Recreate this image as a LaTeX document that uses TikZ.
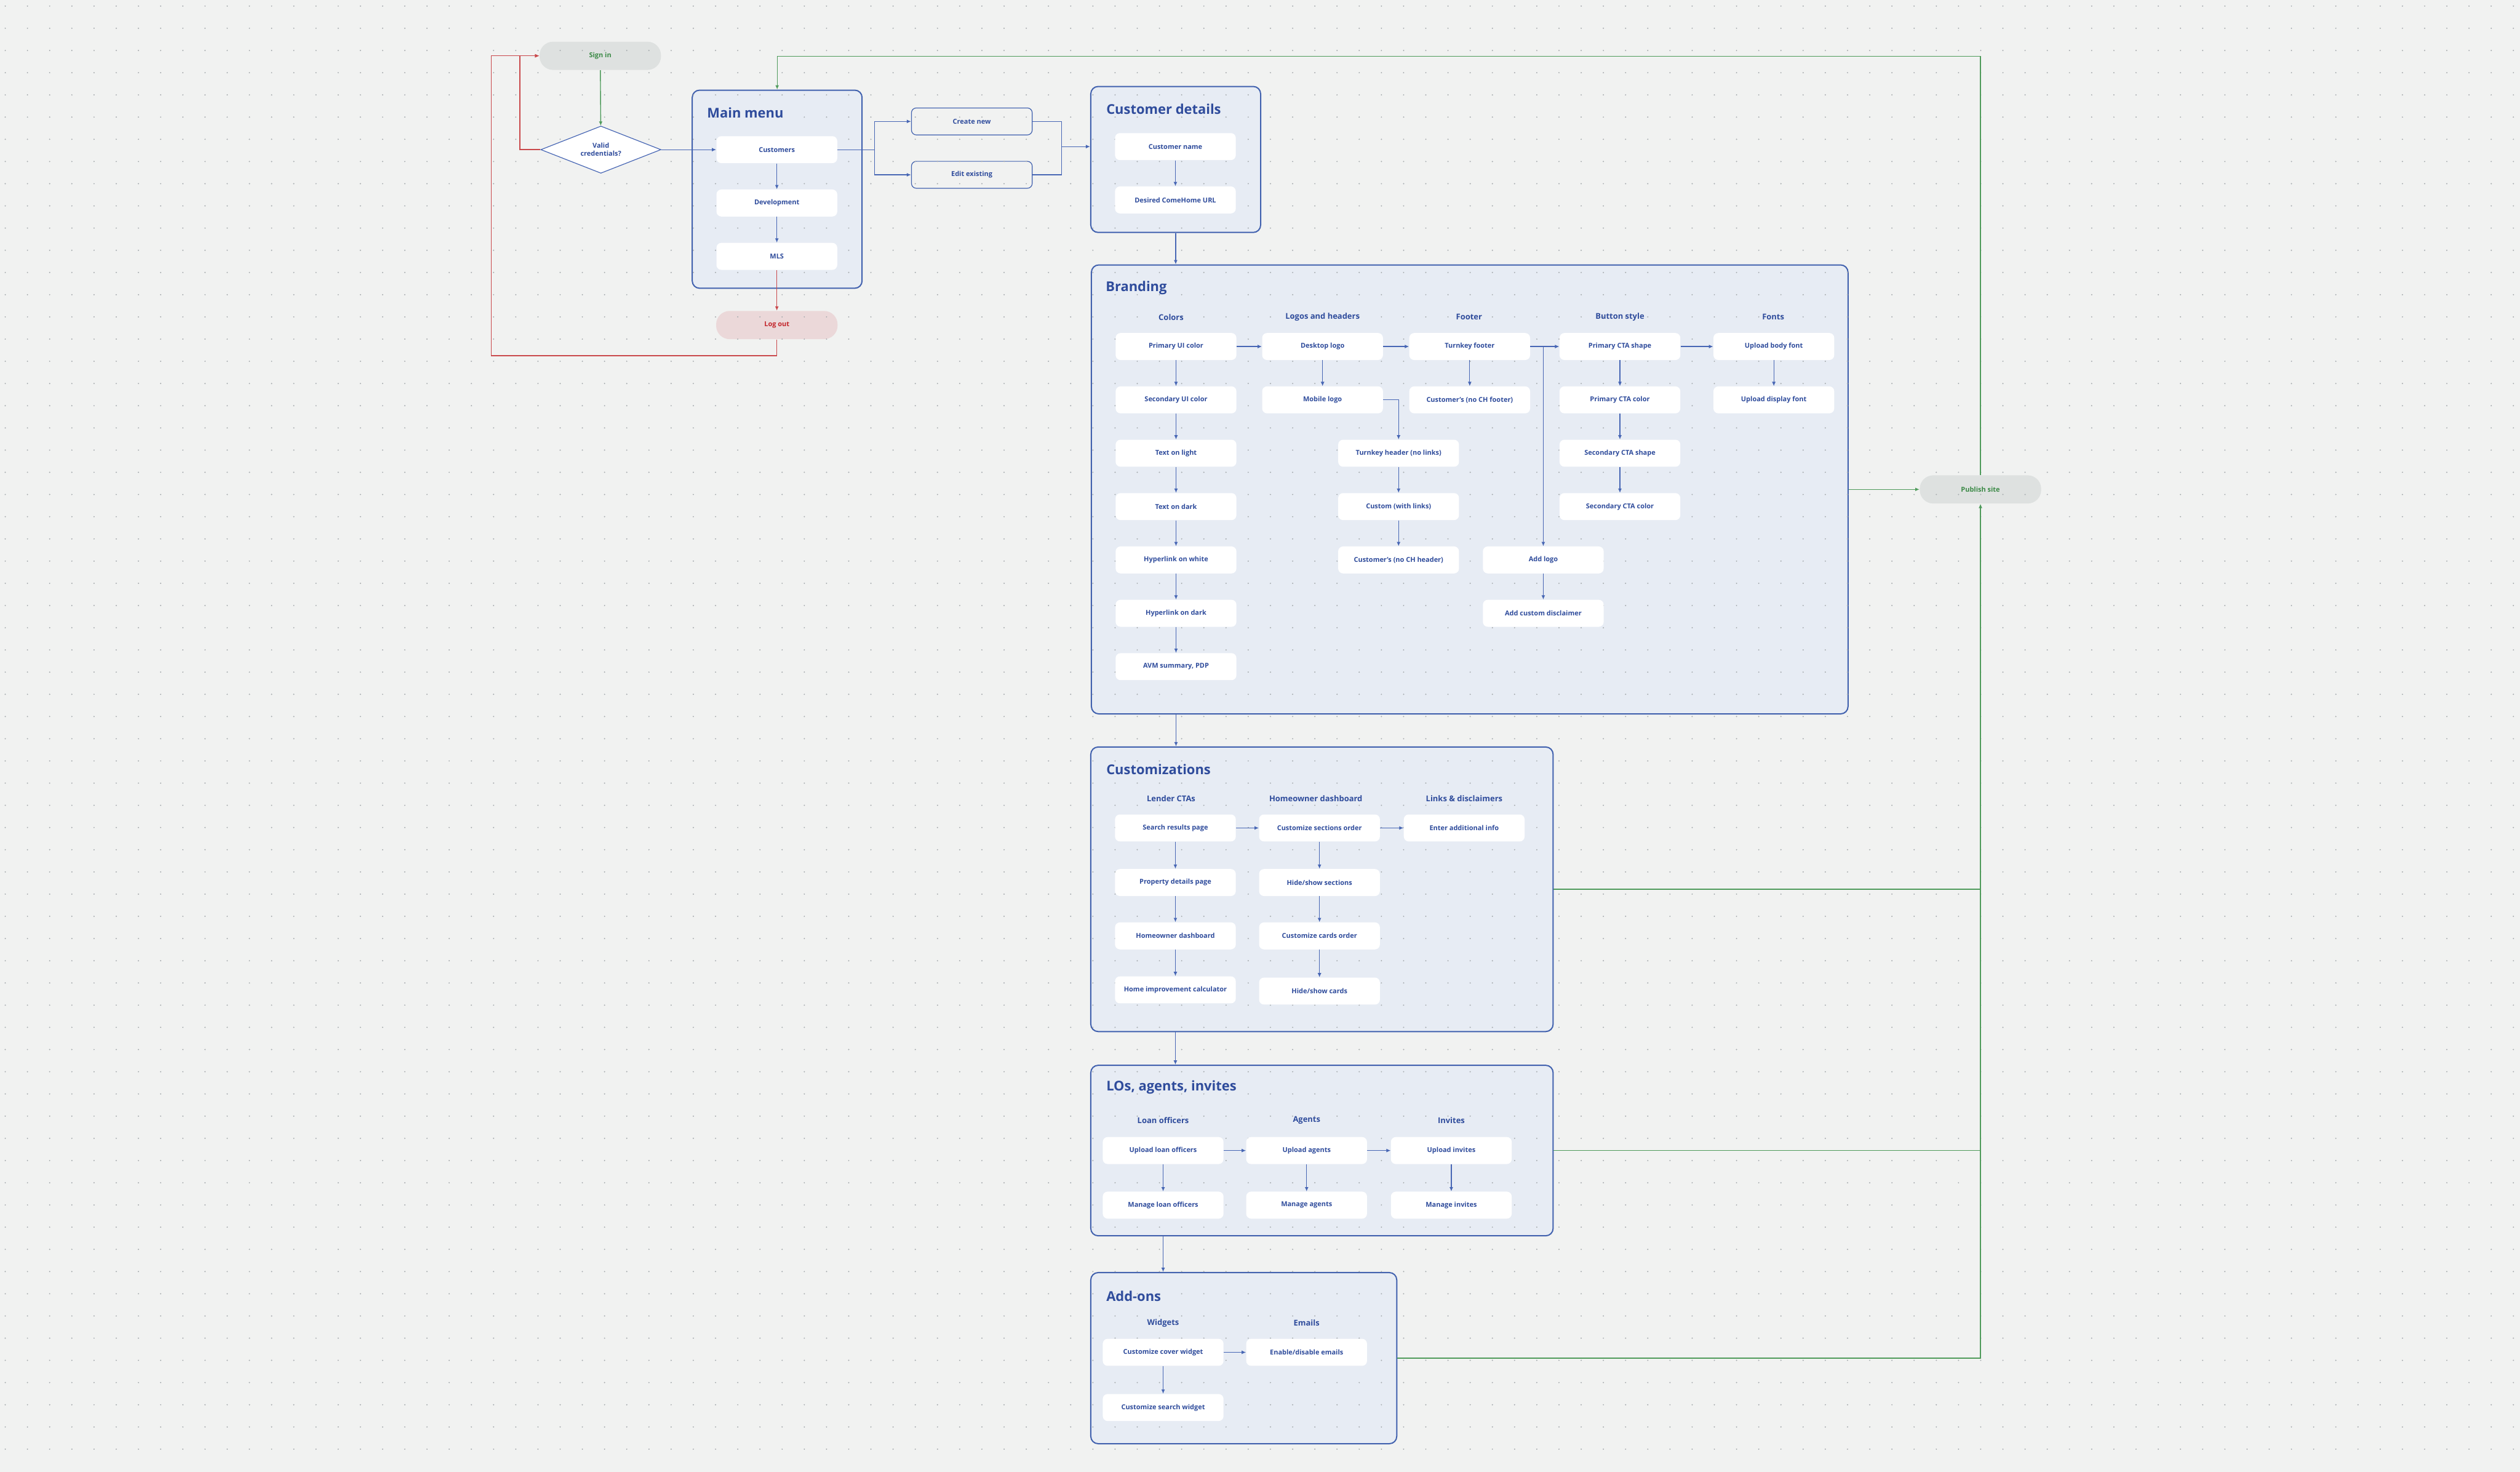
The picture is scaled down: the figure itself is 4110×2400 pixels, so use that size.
\documentclass[tikz,border=0pt]{standalone}
\usepackage{fontspec}
\setmainfont{Open Sans}
\usetikzlibrary{positioning,arrows.meta,calc,fit,shapes.geometric}

\definecolor{canvas}{HTML}{F1F2F1}
\definecolor{speck}{HTML}{A6ABAE}
\definecolor{panel}{HTML}{E7ECF4}
\definecolor{frame}{HTML}{4161AE}
\definecolor{ink}{HTML}{2F4C9C}
\definecolor{wire}{HTML}{4766B4}
\definecolor{okgreen}{HTML}{3C8A47}
\definecolor{okwire}{HTML}{4F9B5B}
\definecolor{pillgrey}{HTML}{DEE1E0}
\definecolor{pillred}{HTML}{EBD8D9}
\definecolor{stopred}{HTML}{C3262C}
\definecolor{stopwire}{HTML}{C9484B}

\begin{document}
\begin{tikzpicture}[x=0.5pt, y=-0.5pt,
      box/.style={fill=white, rounded corners=4pt, minimum width=98.5pt, minimum height=22pt, inner sep=0pt, text=ink, font=\fontsize{5.5}{6.6}\selectfont\bfseries},
      ghost/.style={box, fill=canvas, draw=frame, line width=0.6pt},
      pill/.style={rounded corners=11pt, minimum width=99pt, minimum height=23pt, inner sep=0pt, font=\fontsize{5.5}{6.6}\selectfont\bfseries},
      group/.style={draw=frame, line width=1pt, fill=panel, rounded corners=6pt, inner sep=0pt},
      ttl/.style={anchor=west, inner sep=0pt, text=ink, font=\fontsize{11}{13}\selectfont\bfseries},
      hdr/.style={inner sep=0pt, text=ink, font=\fontsize{6.5}{8}\selectfont\bfseries},
      ln/.style={draw=wire, line width=0.6pt},
      arr/.style={ln, -{Latex[length=3.5pt,width=3pt]}},
      gln/.style={draw=okwire, line width=0.7pt},
      garr/.style={gln, -{Latex[length=3.5pt,width=3pt]}},
      rarr/.style={draw=stopwire, line width=0.7pt, -{Latex[length=3.5pt,width=3pt]}}]
    \fill[canvas] (0,0) rectangle (4110,2400);

    \node[group, fit={(1129,147) (1406,470)}] (mainmenu) {};
    \node[group, fit={(1779,141) (2056,379)}] (custdetails) {};
    \node[group, fit={(1780,432) (3014,1164)}] (branding) {};
    \node[group, fit={(1779,1218) (2533,1682)}] (custom) {};
    \node[group, fit={(1779,1737) (2533,2015)}] (people) {};
    \node[group, fit={(1779,2075) (2278,2354)}] (addons) {};

    \node[pill, fill=pillgrey, text=okgreen] (signin) at (979,91) {Sign in};
    \node[pill, fill=pillred, text=stopred] (logout) at (1267,530) {Log out};
    \node[pill, fill=pillgrey, text=okgreen] (publish) at (3230,798) {Publish site};
    \node[ghost] (createnew) at (1585,198) {Create new};
    \node[ghost] (editexisting) at (1585,285) {Edit existing};

    \foreach \j in {-2,...,63}
      \fill[speck] foreach \i in {-22,...,91} {(805+36.2*\i,82.3+36.2*\j) circle[radius=0.55pt]};

    \node[diamond, aspect=2.5, draw=wire, line width=0.6pt, fill=white, minimum width=98pt, minimum height=38.5pt, inner sep=0pt, align=center, text=ink, font=\fontsize{5.5}{6.6}\selectfont\bfseries] (valid) at (980,244) {Valid\\credentials?};

    \node[ttl] (mmtitle) at (1153,184) {Main menu};
    \node[box] (customers) at (1267,244) {Customers};
    \node[box] (development) at (1267,331) {Development};
    \node[box] (mls) at (1267,418) {MLS};

    \node[ttl] (cdtitle) at (1804,178) {Customer details};
    \node[box] (custname) at (1917,239) {Customer name};
    \node[box] (desiredurl) at (1917,326) {Desired ComeHome URL};

    \node[ttl] (brtitle) at (1803,469) {Branding};
    \node[hdr] (colors) at (1910,517) {Colors};
    \node[hdr] (logos) at (2157,517) {Logos and headers};
    \node[hdr] (footer) at (2396,517) {Footer};
    \node[hdr] (buttons) at (2642,517) {Button style};
    \node[hdr] (fonts) at (2892,517) {Fonts};
    \node[box] (primaryui) at (1918,565) {Primary UI color};
    \node[box] (secondaryui) at (1918,652) {Secondary UI color};
    \node[box] (textlight) at (1918,739) {Text on light};
    \node[box] (textdark) at (1918,826) {Text on dark};
    \node[box] (linkwhite) at (1918,913) {Hyperlink on white};
    \node[box] (linkdark) at (1918,1000) {Hyperlink on dark};
    \node[box] (avm) at (1918,1087) {AVM summary, PDP};
    \node[box] (desktoplogo) at (2157,565) {Desktop logo};
    \node[box] (mobilelogo) at (2157,652) {Mobile logo};
    \node[box] (turnkeyheader) at (2281,739) {Turnkey header (no links)};
    \node[box] (customheader) at (2281,826) {Custom (with links)};
    \node[box] (ownheader) at (2281,913) {Customer's (no CH header)};
    \node[box] (turnkeyfooter) at (2397,565) {Turnkey footer};
    \node[box] (ownfooter) at (2397,652) {Customer's (no CH footer)};
    \node[box] (addlogo) at (2517,913) {Add logo};
    \node[box] (disclaimer) at (2517,1000) {Add custom disclaimer};
    \node[box] (ctashape) at (2642,565) {Primary CTA shape};
    \node[box] (ctacolor) at (2642,652) {Primary CTA color};
    \node[box] (ctashapeb) at (2642,739) {Secondary CTA shape};
    \node[box] (ctacolorb) at (2642,826) {Secondary CTA color};
    \node[box] (bodyfont) at (2893,565) {Upload body font};
    \node[box] (displayfont) at (2893,652) {Upload display font};

    \node[ttl] (cutitle) at (1804,1255) {Customizations};
    \node[hdr] (lender) at (1910,1302) {Lender CTAs};
    \node[hdr] (owner) at (2146,1302) {Homeowner dashboard};
    \node[hdr] (links) at (2388,1302) {Links \& disclaimers};
    \node[box] (searchpage) at (1917,1350) {Search results page};
    \node[box] (propertypage) at (1917,1439) {Property details page};
    \node[box] (dashboard) at (1917,1526) {Homeowner dashboard};
    \node[box] (calculator) at (1917,1614) {Home improvement calculator};
    \node[box] (sectionsorder) at (2152,1350) {Customize sections order};
    \node[box] (sectionsshow) at (2152,1439) {Hide/show sections};
    \node[box] (cardsorder) at (2152,1526) {Customize cards order};
    \node[box] (cardsshow) at (2152,1616) {Hide/show cards};
    \node[box] (extrainfo) at (2388,1350) {Enter additional info};

    \node[ttl] (lotitle) at (1804,1773) {LOs, agents, invites};
    \node[hdr] (officers) at (1897,1827) {Loan officers};
    \node[hdr] (agents) at (2131,1827) {Agents};
    \node[hdr] (invites) at (2367,1827) {Invites};
    \node[box] (uploadlo) at (1897,1876) {Upload loan officers};
    \node[box] (managelo) at (1897,1965) {Manage loan officers};
    \node[box] (uploadag) at (2131,1876) {Upload agents};
    \node[box] (manageag) at (2131,1965) {Manage agents};
    \node[box] (uploadinv) at (2367,1876) {Upload invites};
    \node[box] (manageinv) at (2367,1965) {Manage invites};

    \node[ttl] (aotitle) at (1804,2113) {Add-ons};
    \node[hdr] (widgets) at (1897,2157) {Widgets};
    \node[hdr] (emails) at (2131,2157) {Emails};
    \node[box] (coverwidget) at (1897,2205) {Customize cover widget};
    \node[box] (searchwidget) at (1897,2295) {Customize search widget};
    \node[box] (toggleemails) at (2131,2205) {Enable/disable emails};

    \coordinate (fork) at (1426,244);
    \coordinate (merge) at (1731,239);
    \coordinate (rail) at (3230,92);
    \coordinate (retry) at (848,91);
    \coordinate (loopback) at (801,580);

    \draw[garr] (signin) -- (valid);
    \draw[arr] (valid) -- (customers);
    \draw[ln] (customers) -- (fork);
    \draw[arr] (fork) |- (createnew);
    \draw[arr] (fork) |- (editexisting);
    \draw[ln] (createnew) -| (merge);
    \draw[ln] (editexisting) -| (merge);
    \draw[arr] (merge) -- (merge -| custdetails.west);
    \draw[rarr] (mls) -- (logout);
    \draw[rarr] (logout.south) |- (loopback) |- (signin.west);
    \draw[rarr] (valid.west) -| (retry) -- (signin.west);

    \foreach \a/\b in {customers/development, development/mls, custname/desiredurl,
        primaryui/secondaryui, secondaryui/textlight, textlight/textdark, textdark/linkwhite,
        linkwhite/linkdark, linkdark/avm, desktoplogo/mobilelogo, turnkeyheader/customheader,
        customheader/ownheader, turnkeyfooter/ownfooter, addlogo/disclaimer, ctashape/ctacolor,
        ctacolor/ctashapeb, ctashapeb/ctacolorb, bodyfont/displayfont,
        primaryui/desktoplogo, desktoplogo/turnkeyfooter, turnkeyfooter/ctashape, ctashape/bodyfont,
        searchpage/propertypage, propertypage/dashboard, dashboard/calculator,
        sectionsorder/sectionsshow, sectionsshow/cardsorder, cardsorder/cardsshow,
        searchpage/sectionsorder, sectionsorder/extrainfo,
        uploadlo/managelo, uploadag/manageag, uploadinv/manageinv,
        uploadlo/uploadag, uploadag/uploadinv, coverwidget/searchwidget, coverwidget/toggleemails}
      \draw[arr] (\a) -- (\b);
    \draw[arr] (mobilelogo.east) -| (turnkeyheader.north);
    \draw[arr] (turnkeyfooter.east -| addlogo) -- (addlogo);

    \draw[arr] (custdetails.south) -- (branding.north -| custdetails.south);
    \draw[arr] (branding.south -| primaryui) -- (custom.north -| primaryui);
    \draw[arr] (custom.south -| searchpage) -- (people.north -| searchpage);
    \draw[arr] (people.south -| uploadlo) -- (addons.north -| uploadlo);

    \draw[garr] (branding.east) -- (publish.west);
    \draw[gln] (custom.east) -- (custom.east -| publish);
    \draw[gln] (people.east) -- (people.east -| publish);
    \draw[garr] (addons.east) -| (publish.south);
    \draw[garr] (publish.north) -- (rail) -| (mainmenu.north);
  \end{tikzpicture}
\end{document}
